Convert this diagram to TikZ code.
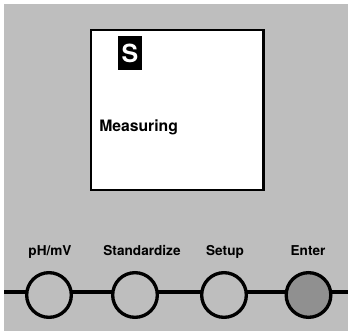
\documentclass[tikz,border=0pt]{standalone}
\usepackage{fontspec}
\setmainfont{TeX Gyre Heros}
\definecolor{panel}{HTML}{BEBEBE}
\definecolor{pressed}{HTML}{909090}
\tikzset{
  x=0.75pt,y=-0.75pt,
  btn/.style={circle,draw=black,line width=2.5pt,minimum size=33.5pt,inner sep=0pt,fill=panel},
  lbl/.style={font=\bfseries\fontsize{10.2pt}{12pt}\selectfont,text=black,inner sep=0pt,anchor=base},
  wire/.style={draw=black,line width=2.3pt}
}
\begin{document}
\begin{tikzpicture}
\useasboundingbox (0,0) rectangle (348,331);
\fill[white] (0,0) rectangle (348,331);
\fill[panel] (4,4) rectangle (348,331);
\coordinate (wl) at (4,292);
\coordinate (wr) at (348,292);
\draw[wire] (wl) -- (wr);
\node[btn] (b1) at (49,295) {};
\node[btn] (b2) at (135,295) {};
\node[btn] (b3) at (224,295) {};
\node[btn,fill=pressed] (b4) at (308.5,295) {};
\node[lbl] (t1) at (50,255) {pH/mV};
\node[lbl] (t2) at (142,255) {Standardize};
\node[lbl] (t3) at (225,255) {Setup};
\node[lbl] (t4) at (308,255) {Enter};
\node[draw=black,line width=2pt,fill=white,minimum width=129.4pt,minimum height=120pt,inner sep=0pt] (screen) at (177.2,110) {};
\node[fill=black,text=white,font=\bfseries\fontsize{18.7pt}{20pt}\selectfont,minimum width=18pt,minimum height=25.5pt,inner sep=0pt] (s) at (130,53) {S};
\node[font=\bfseries\fontsize{11.8pt}{13pt}\selectfont,inner sep=0pt,anchor=base west] (m) at (99,131.5) {Measuring};
\end{tikzpicture}
\end{document}
